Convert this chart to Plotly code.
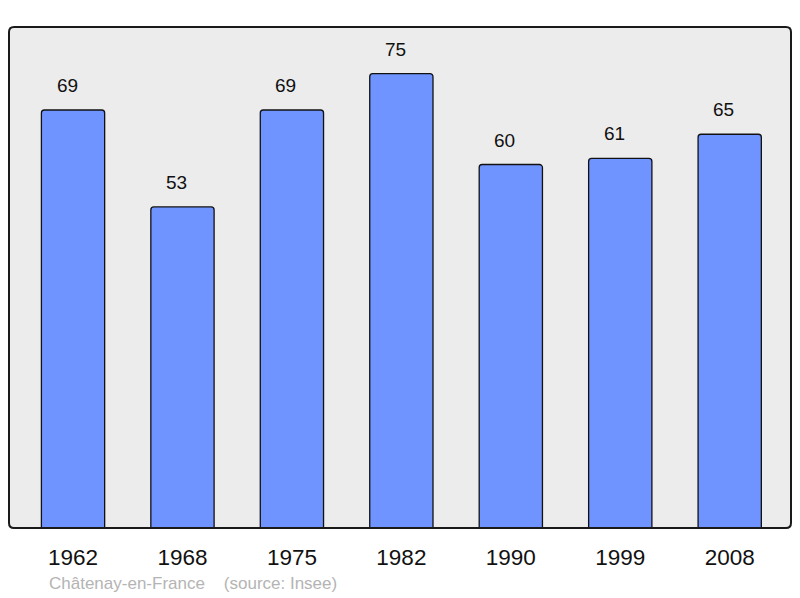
import plotly.graph_objects as go

years = ["1962", "1968", "1975", "1982", "1990", "1999", "2008"]
population = [69, 53, 69, 75, 60, 61, 65]

# page has 8px body margin; figure sized to fit the window
W, H = 784, 590
L, R, T, B = 1, 1, 19, 70

fig = go.Figure()
fig.add_trace(go.Bar(
    x=list(range(len(years))), y=population,
    width=0.578,
    marker=dict(color="#7094ff", line=dict(color="#111111", width=1.3), cornerradius=3),
    hoverinfo="skip",
))

for i, v in enumerate(population):
    fig.add_annotation(x=i, y=v, text=str(v), showarrow=False, yanchor="bottom",
                       yshift=12, xshift=-6,
                       font=dict(family="Liberation Sans, Arial", size=19, color="#111111"))

# rounded frame
pw, ph = W - L - R, H - T - B
rx, ry = 5 / pw, 5 / ph
path = (f"M {rx},0 L {1-rx},0 Q 1,0 1,{ry} L 1,{1-ry} Q 1,1 {1-rx},1 "
        f"L {rx},1 Q 0,1 0,{1-ry} L 0,{ry} Q 0,0 {rx},0 Z")
fig.add_shape(type="path", path=path, xref="x domain", yref="y domain",
              line=dict(color="#1a1a1a", width=2), layer="above")

fig.add_annotation(xref="paper", yref="paper", x=(39 - L) / pw, y=0, xanchor="left", yanchor="top",
                   text="Châtenay-en-France&nbsp;&nbsp;&nbsp;&nbsp;(source: Insee)", showarrow=False,
                   yshift=-44, font=dict(family="Liberation Sans, Arial", size=17, color="#b4b4b4"))

fig.update_layout(
    width=W, height=H,
    margin=dict(l=L, r=R, t=T, b=B),
    paper_bgcolor="white", plot_bgcolor="#ececec",
    showlegend=False,
    xaxis=dict(range=[-0.585, 6.56], tickvals=list(range(len(years))), ticktext=years,
               showgrid=False, zeroline=False, ticks="outside", ticklen=9,
               tickcolor="rgba(0,0,0,0)", showline=False,
               tickfont=dict(family="Liberation Sans, Arial", size=22.5, color="#111111")),
    yaxis=dict(range=[0, 82.7], showgrid=False, zeroline=False, showticklabels=False, showline=False),
)

fig.write_html("out.html")
